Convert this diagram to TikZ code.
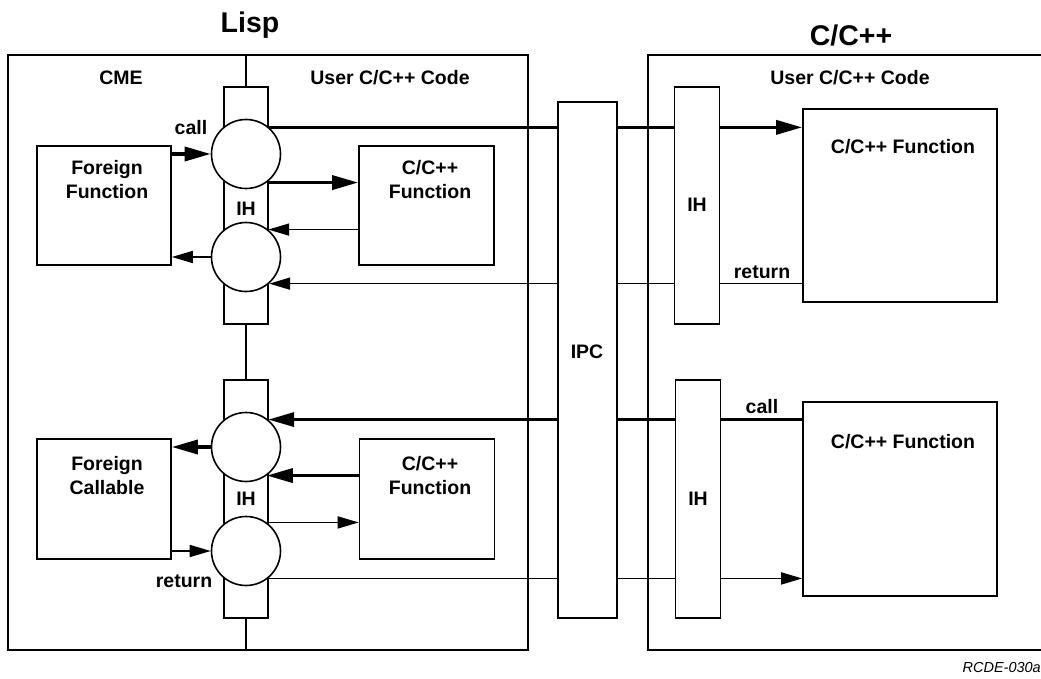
\documentclass[tikz,border=0pt]{standalone}
\usepackage{fontspec}
\setmainfont{Liberation Sans}
\usetikzlibrary{arrows.meta}
\pgfdeclarelayer{bg}
\pgfsetlayers{bg,main}
\begin{document}
\begin{tikzpicture}[x=1pt,y=-1pt,
  box/.style={draw,line width=1.6pt,fill=white,inner sep=0pt},
  frame/.style={draw,line width=1.6pt,inner sep=0pt},
  lbl/.style={font=\bfseries\fontsize{19.5}{24}\selectfont,align=center,inner sep=0pt},
  ttl/.style={font=\bfseries\fontsize{28.5}{34}\selectfont,inner sep=0pt},
  circ/.style={circle,draw,fill=white,line width=1.6pt,minimum size=69pt,inner sep=0pt},
  thinln/.style={line width=1.6pt},
  heavyln/.style={line width=3.4pt},
  thinarr/.style={-{Triangle[length=21pt,width=12pt]}},
  heavyarr/.style={-{Triangle[length=26pt,width=14pt]}}
]
\useasboundingbox (0,0) rectangle (1041,679);

% titles
\node[ttl] (tlisp) at (250,25) {Lisp};
\node[ttl] (tcpp) at (851,35) {C/C++};

% outer frames
\node[frame,minimum width=520pt,minimum height=595pt] (lisp) at (268,352.5) {};
\draw[thinln] (1041,55) -- (648,55) -- (648,650) -- (1041,650);

% section labels
\node[lbl] (cme) at (121,78) {CME};
\node[lbl] (ucl) at (390,78) {User C/C++ Code};
\node[lbl] (ucr) at (850,78) {User C/C++ Code};

% IH bars (left)
\node[box,minimum width=44pt,minimum height=237pt] (ih1) at (246,205.5) {};
\node[box,minimum width=44pt,minimum height=238pt] (ih2) at (246,499) {};
% IPC
\node[box,minimum width=59pt,minimum height=516pt] (ipc) at (587.5,360) {};
\node[lbl] (ipct) at (587,352) {IPC};
% IH bars (right)
\node[box,minimum width=45pt,minimum height=237pt] (ih3) at (697,205.5) {};
\node[box,minimum width=45pt,minimum height=238pt] (ih4) at (698,499) {};
\node[lbl] (ih3t) at (697,205) {IH};
\node[lbl] (ih4t) at (698,499) {IH};

% circles
\node[circ] (c1) at (246,154) {};
\node[circ] (c2) at (246,257) {};
\node[circ] (c3) at (246,447) {};
\node[circ] (c4) at (246,551) {};
\node[lbl] (ih1t) at (246,209) {IH};
\node[lbl] (ih2t) at (246,499) {IH};

% left boxes
\node[box,minimum width=134pt,minimum height=119pt] (ff) at (104,205.5) {};
\node[lbl] (fft) at (107,180) {Foreign\\Function};
\node[box,minimum width=135pt,minimum height=119pt] (cl1) at (426.5,205.5) {};
\node[lbl] (cl1t) at (430,180) {C/C++\\Function};
\node[box,minimum width=134pt,minimum height=120pt] (fc) at (104,499) {};
\node[lbl] (fct) at (107,476) {Foreign\\Callable};
\node[box,minimum width=135pt,minimum height=120pt] (cl2) at (427,499) {};
\node[lbl] (cl2t) at (430,476) {C/C++\\Function};

% right boxes
\node[box,minimum width=194pt,minimum height=193pt] (r1) at (900,205.5) {};
\node[lbl] (r1t) at (903,147) {C/C++ Function};
\node[box,minimum width=194pt,minimum height=194pt] (r2) at (900,499) {};
\node[lbl] (r2t) at (903,442) {C/C++ Function};

% small labels
\node[lbl] (call1) at (191,128) {call};
\node[lbl] (ret1) at (762,272) {return};
\node[lbl] (call2) at (762,407) {call};
\node[lbl] (ret2) at (184,581) {return};

% local connectors
\draw[heavyln,heavyarr] (ff.east |- c1.west) -- (c1.west);
\draw[heavyln,heavyarr] (c1.-54) -- (c1.-54 -| cl1.west);
\draw[thinln,thinarr] (cl1.west |- c2.51.5) -- (c2.51.5);
\draw[thinln,thinarr] (c2.west) -- (c2.west -| ff.east);
\draw[heavyln,heavyarr] (c3.west) -- (c3.west -| fc.east);
\draw[heavyln,heavyarr] (cl2.west |- c3.-54) -- (c3.-54);
\draw[thinln,thinarr] (c4.54) -- (c4.54 -| cl2.west);
\draw[thinln,thinarr] (fc.east |- c4.west) -- (c4.west);

\begin{pgfonlayer}{bg}
\draw[thinln] (ih1.north |- lisp.north) -- (ih1.south |- lisp.south);
\draw[heavyln,heavyarr] (c1.49) -- (c1.49 -| r1.west);
\draw[thinln,thinarr] (c2.-49 -| r1.west) -- (c2.-49);
\draw[heavyln,heavyarr] (c3.51.5 -| r2.west) -- (c3.51.5);
\draw[thinln,thinarr] (c4.-51.5) -- (c4.-51.5 -| r2.west);
\end{pgfonlayer}

\node[font=\itshape\fontsize{14.5}{17}\selectfont,anchor=east,inner sep=0pt] (code) at (1041,668) {RCDE-030a};
\end{tikzpicture}
\end{document}
